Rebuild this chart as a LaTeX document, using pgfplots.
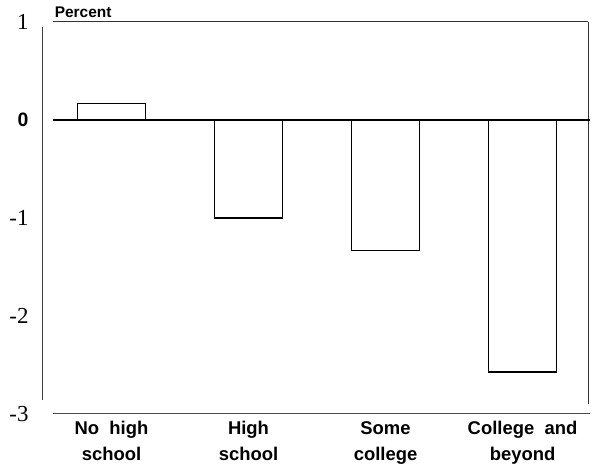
\documentclass[border=0pt]{standalone}
\usepackage{pgfplots}
\pgfplotsset{compat=1.18}
\usepackage{fontspec}
\setmainfont{Liberation Sans}
\newfontfamily\serif{Liberation Serif}
\begin{document}
\begin{tikzpicture}[x=1bp,y=1bp]
\begin{axis}[
  name=ax, at={(0,0)}, anchor=south west,
  scale only axis, width=535bp, height=392bp,
  xmin=-0.427, xmax=3.478, ymin=-3, ymax=1,
  axis line style={draw=none},
  major tick length=0pt,
  xtick={0,1,2,3},
  xticklabels={No\ \ high\\school, High\\school, Some\\college, College\ \ and\\beyond},
  xticklabel style={font=\bfseries\fontsize{18.5}{26}\selectfont, align=center, yshift=-4bp},
  ytick={-3,-2,-1,0,1},
  yticklabels={{\serif\fontsize{23}{23}\selectfont -3},{\serif\fontsize{23}{23}\selectfont -2},{\serif\fontsize{23}{23}\selectfont -1},{\bfseries\fontsize{19.5}{19.5}\selectfont 0},{\serif\fontsize{23}{23}\selectfont 1}},
  yticklabel style={xshift=-21bp},
  clip=false,
]
\addplot[ybar, bar width=68bp, bar shift=0pt, fill=white, draw=black, line width=1.3bp]
  coordinates {(0,0.17) (1,-1.0) (2,-1.33) (3,-2.57)};
% frame lines
\draw[black!75, line width=1bp] (axis cs:-0.5,0.95) -- (axis cs:-0.5,-2.86);
\draw[black!80, line width=1bp] (axis cs:-0.427,1) -- (axis cs:3.478,1);
\draw[black!70, line width=1bp] (axis cs:-0.427,-3) -- (axis cs:3.49,-3);
\draw[black!80, line width=1bp] (axis cs:3.478,1) -- (axis cs:3.478,-2.9);
\draw[black, line width=1.2bp] (axis cs:-0.427,0) -- (axis cs:3.49,0);
\node[anchor=base west, inner sep=0pt, font=\bfseries\fontsize{15.5}{15.5}\selectfont] at (axis cs:-0.415,1.045) {Percent};
\end{axis}
\path[use as bounding box] (-53,-60) rectangle (539,414);
\end{tikzpicture}
\end{document}
